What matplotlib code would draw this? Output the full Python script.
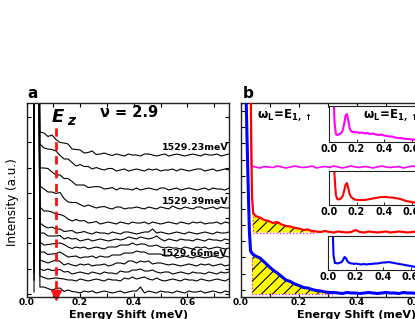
import numpy as np
import matplotlib
matplotlib.use('Agg')
import matplotlib.pyplot as plt
from matplotlib import font_manager as fm
from matplotlib.ticker import MultipleLocator, FormatStrFormatter

plt.rcParams['font.family'] = ['DejaVu Sans']
plt.rcParams['font.weight'] = 'bold'
plt.rcParams['mathtext.fontset'] = 'dejavusans'
plt.rcParams['mathtext.default'] = 'bf'
plt.rcParams['hatch.linewidth'] = 0.8

W, H = 415, 319

# ---------------- data: panel a (pixel-height units above bottom) -------------
xa_laser = [0.028, 0.031, 0.044]
xa = [0.05, 0.065, 0.08, 0.095, 0.11, 0.125, 0.14, 0.155, 0.17, 0.185, 0.2, 0.215,
      0.23, 0.245, 0.26, 0.275, 0.29, 0.305, 0.32, 0.335, 0.35, 0.365, 0.38, 0.395,
      0.41, 0.425, 0.44, 0.455, 0.47, 0.485, 0.5, 0.515, 0.53, 0.545, 0.56, 0.575,
      0.59, 0.605, 0.62, 0.635, 0.65, 0.665, 0.68, 0.695, 0.71, 0.725, 0.74, 0.755]
baselines_a = [142, 127, 108, 89, 74, 64, 57, 49, 40, 32, 24, 17, 5]
trace1 = [165, 164, 160.5, 162, 157.5, 154.5, 154, 153, 148, 147.5, 147, 144, 144.5, 146, 142.5, 143,
          144, 142.5, 141.5, 143, 142, 141, 143, 142, 142, 141, 143, 143, 142, 141, 142, 143,
          141, 142, 143, 142, 141, 142, 143, 142, 141, 143, 142, 142, 143, 141, 142, 143]
trace2 = [153, 149, 148, 147.5, 146, 141.5, 138, 138, 134.5, 131, 132.5, 130.5, 130.5, 128, 129.5, 128,
          127, 128.5, 128.5, 126, 127, 128, 126, 127, 128, 127, 126, 128, 127, 128, 126, 127,
          127, 128, 126, 128, 127, 126, 127, 128, 128, 126, 127, 128, 126, 127, 128, 127]
trace3 = [129, 129, 128.5, 125, 122, 122, 118.5, 118.5, 115.5, 112, 112, 112, 109.5, 110, 110.5, 110,
          108, 108.5, 109.5, 107, 109, 108, 108, 107, 109, 107, 108, 109, 108, 107, 109, 109,
          107, 108, 109, 107, 108, 109, 108, 107, 108, 109, 107, 109, 108, 108, 107, 109]
trace4 = [111, 108, 105, 105, 103.5, 104.5, 98.5, 95, 94.5, 94.5, 92.5, 90.5, 92, 90.5, 89, 90,
          90.5, 89, 88, 90, 90, 88, 89, 89, 90, 89, 88, 90, 89, 88, 90, 89,
          88, 91, 89, 88, 90, 89, 88, 90, 90, 88, 89, 90, 88, 90, 89, 89]
trace5 = [90, 86, 86, 85, 83, 82.5, 81, 78, 76, 77.5, 76, 76.5, 74, 74.5, 75.5, 73,
          74, 75, 74, 73, 75, 74, 73, 75, 74, 74, 75, 73, 75, 74, 73, 74,
          75, 74, 73, 75, 74, 73, 75, 74, 75, 73, 74, 74, 75, 73, 75, 74]
trace6 = [74, 71, 69, 70, 68, 68, 65.5, 66, 66.5, 64, 64.5, 65.5, 64, 63, 65, 64,
          64, 63, 65, 64, 63, 65, 65, 64, 63, 64, 65, 65, 68, 64, 65, 64,
          63, 64, 65, 64, 63, 65, 64, 63, 64, 65, 64, 63, 65, 64, 64, 65]
trace7 = [64, 64, 61, 61, 61, 61.5, 58, 59.5, 58, 58.5, 56, 57, 58, 56, 57, 58,
          57, 56, 57, 58, 57, 58, 60, 59, 58, 60, 59, 58, 59, 61, 58, 56,
          58, 57, 56, 58, 57, 57, 56, 58, 57, 56, 58, 57, 57, 56, 58, 57]
trace8 = [55, 52, 52.5, 53, 53.5, 54, 52.5, 50, 48.5, 50, 49, 50, 48, 49, 50, 49,
          48, 50, 50, 50, 52, 52, 52, 54, 52, 53, 53, 51, 51, 52, 50, 49,
          50, 49, 49, 48, 50, 49, 48, 50, 49, 50, 48, 49, 50, 49, 48, 49]
trace9 = [45, 45, 42.5, 43, 43.5, 45, 42.5, 40, 40.5, 41, 39, 40, 40, 41, 39, 41,
          40, 40, 42, 42, 42, 44, 44, 44, 46, 45, 45, 43, 43, 43, 43, 41,
          41, 42, 39, 40, 41, 40, 39, 41, 40, 39, 40, 41, 40, 39, 41, 40]
trace10 = [37, 35.5, 34, 35.5, 37, 35.5, 32, 33.5, 32, 31, 33, 32, 33, 31, 32, 32,
           33, 31, 32, 34, 34, 33, 36, 36, 34, 36, 35, 36, 33, 34, 34, 33,
           32, 33, 32, 31, 32, 33, 32, 31, 33, 32, 33, 31, 32, 33, 31, 32]
trace11 = [28, 26.5, 28, 26.5, 27, 27.5, 25, 25.5, 23, 24, 25, 24, 23, 25, 24, 23,
           25, 24, 24, 23, 26, 25, 25, 27, 27, 28, 26, 26, 27, 25, 24, 25,
           25, 23, 24, 25, 24, 23, 25, 24, 24, 23, 25, 24, 23, 25, 24, 25]
trace12 = [21, 19.5, 18, 18.5, 19, 18.5, 18, 17, 17, 16, 18, 17, 16, 17, 18, 17,
           16, 18, 17, 17, 16, 19, 18, 20, 18, 19, 20, 18, 17, 19, 17, 16,
           17, 18, 17, 16, 18, 17, 17, 16, 18, 17, 16, 17, 18, 17, 16, 18]
trace13 = [10, 10, 8.5, 7, 8.5, 9, 5.5, 7, 5.5, 5, 4, 6, 5, 6, 4, 5,
           6, 5, 4, 5, 6, 4, 5, 6, 6, 10, 4, 6, 5, 4, 6, 5,
           5, 4, 6, 5, 4, 6, 5, 5, 6, 4, 5, 6, 5, 4, 6, 5]
traces_a = [trace1, trace2, trace3, trace4, trace5, trace6, trace7, trace8,
            trace9, trace10, trace11, trace12, trace13]
ez_pos = 0.11
trace_labels = ['1529.23meV', '1529.39meV', '1529.66meV']

# ---------------- data: panel b -------------
xb = [0.05, 0.065, 0.08, 0.095, 0.11, 0.125, 0.14, 0.155, 0.17, 0.185, 0.2, 0.215,
      0.23, 0.245, 0.26, 0.275, 0.29, 0.305, 0.32, 0.335, 0.35, 0.365, 0.38, 0.395,
      0.41, 0.425, 0.44, 0.455, 0.47, 0.485, 0.5, 0.515, 0.53, 0.545, 0.56, 0.575,
      0.59, 0.605]
mag_pre_x = [0.03, 0.036, 0.042]
mag_pre_y = [400, 132, 130.5]
mag_main = [130, 129, 130.5, 130, 129.5, 131, 130, 129, 130, 131, 130, 129.5, 130, 131, 129, 130,
            130.5, 129.5, 131, 130, 129, 130, 131, 130, 129.5, 130.5, 130, 129, 130, 131, 130,
            129.5, 130, 130.5, 129, 130, 131, 130]
red_pre_x = [0.03, 0.035, 0.038, 0.042]
red_pre_y = [400, 160, 100, 84]
red_main = [81, 79.5, 77, 76, 74, 75, 72.5, 71, 70.5, 69, 68.5, 67, 67.5, 66, 65.5, 65,
            66, 65, 64.5, 65.5, 65, 64.5, 65, 67, 65, 64.5, 65.5, 65, 64.5, 65, 65.5,
            64.5, 65, 65.5, 65, 64.5, 65, 65.5]
blue_pre_x = [0.01, 0.018, 0.024, 0.029, 0.033, 0.04]
blue_pre_y = [400, 194, 120, 65, 46, 43]
blue_main = [41, 39, 35, 31, 27, 24, 20.5, 17, 15.5, 13, 11.5, 9.5, 9, 7.5, 6.5, 6,
             5, 4.5, 4.5, 4, 3.5, 4.5, 4, 4, 3.5, 4, 4.5, 4, 3.5, 4, 4.5, 4,
             4, 3.5, 4.5, 4, 4, 3.5]
red_fill_base = 64.5
red_fill_end = 0.26
blue_fill_base = 2.7
blue_fill_end = 0.32

# insets
xi = [0.03, 0.04, 0.05, 0.06, 0.07, 0.08, 0.09, 0.10, 0.11, 0.12, 0.13, 0.14, 0.15, 0.16,
      0.17, 0.18, 0.19, 0.20, 0.22, 0.24, 0.26, 0.28, 0.30, 0.32, 0.34, 0.36, 0.38, 0.40,
      0.42, 0.44, 0.46, 0.48, 0.50, 0.52, 0.54, 0.56, 0.58, 0.60, 0.62, 0.64]
inset_mag = [60, 20, 8, 7, 7.5, 8, 9, 12, 18, 26, 28, 22, 14, 11, 10, 10.5, 9.5, 10, 9, 9.5,
             8.5, 9, 8, 8.5, 7.5, 7, 7.5, 6.5, 6, 5.5, 5.5, 4.5, 4, 4, 3.5, 3, 3, 2.5, 2.5, 2]
inset_red = [60, 30, 10, 6, 5.5, 6, 7, 9, 14, 20, 22, 17, 11, 8, 7, 6, 5.5, 5, 5, 5,
             5, 5.5, 6, 6.5, 7, 7.5, 8, 8, 8, 7.5, 7.5, 7, 6.5, 6, 5, 4, 3.5, 3, 2.5, 2.5]
inset_blue = [60, 15, 7, 7, 6.5, 7, 7.5, 8, 10, 13, 12, 9, 7.5, 7, 6.5, 6.5, 6, 6.5, 6, 5.5,
              6, 5.5, 6, 6, 6.5, 6.5, 7, 7.5, 7.5, 8, 7.5, 7, 6.5, 6, 5.5, 5, 4.5, 4, 3.5, 3]
inset_ticks = [0.0, 0.2, 0.4, 0.6]

# ---------------- narrow font for the y label -------------
_names = {f.name for f in fm.fontManager.ttflist}
ylab_kw = dict(fontsize=10)
if 'Liberation Sans Narrow' in _names:
    ylab_kw['family'] = ['Liberation Sans Narrow', 'DejaVu Sans']
else:
    _cond = [f for f in fm.fontManager.ttflist
             if f.name == 'DejaVu Sans' and 'ondensed' in str(f.stretch)]
    if _cond:
        ylab_kw['family'] = ['DejaVu Sans']
        ylab_kw['stretch'] = 'condensed'
        ylab_kw['fontsize'] = 9.5
    else:
        ylab_kw['family'] = ['DejaVu Sans']
        ylab_kw['fontsize'] = 8.0

# ---------------- figure -------------
fig = plt.figure(figsize=(W / 100, H / 100), dpi=100)


def rect(l, t, r, b):
    return [l / W, 1 - b / H, (r - l) / W, (b - t) / H]


spine_c = '#222222'

# panel a
axa = fig.add_axes(rect(26.5, 103, 229, 297))
for tr, b in zip(traces_a, baselines_a):
    axa.plot(xa_laser + xa, [b, 400, 400] + tr, color='black', lw=0.8)
axa.set_xlim(0, 0.755)
axa.set_ylim(0, 194)
axa.plot([ez_pos, ez_pos], [8, 171], color='#ff1010', lw=2, dashes=(3, 2))
axa.plot([ez_pos], [2.5], marker='v', color='#ff1010', ms=7, clip_on=False)
axa.xaxis.set_major_locator(MultipleLocator(0.2))
axa.xaxis.set_minor_locator(MultipleLocator(0.1))
axa.xaxis.set_major_formatter(FormatStrFormatter('%.1f'))
axa.set_yticks([3 + 25.3 * k for k in range(8)])
axa.set_yticklabels([])
axa.tick_params(which='both', direction='in', top=True, right=True, length=3,
                width=0.8, labelsize=6.6, pad=1)
for s in axa.spines.values():
    s.set_linewidth(1.0)
    s.set_color(spine_c)

axa.text(0.752, 145.5, trace_labels[0], ha='right', va='bottom', fontsize=6.8)
axa.text(0.752, 90.5, trace_labels[1], ha='right', va='bottom', fontsize=6.8)
axa.text(0.752, 38.5, trace_labels[2], ha='right', va='bottom', fontsize=6.8)

# panel b
axb = fig.add_axes(rect(241, 103, 241 + 232, 297))
axb.set_xlim(0, 0.8)
axb.set_ylim(0, 194)
rx = [0.04] + [x for x in xb if x <= red_fill_end]
ry = [84] + red_main[:len(rx) - 1]
axb.fill_between(rx, red_fill_base, ry, facecolor='#ffff00', edgecolor='black',
                 hatch='///', lw=0, zorder=1)
axb.plot([rx[0], rx[0], rx[-1]], [ry[0], red_fill_base, red_fill_base], ls=':',
         color='#ff00ff', lw=0.9, zorder=2)
bx = [0.038] + [x for x in xb if x <= blue_fill_end]
by = [43] + blue_main[:len(bx) - 1]
axb.fill_between(bx, blue_fill_base, by, facecolor='#ffff00', edgecolor='black',
                 hatch='///', lw=0, zorder=1)
axb.plot([bx[0], bx[0], bx[-1]], [by[0], blue_fill_base, blue_fill_base], ls=':',
         color='#ff00ff', lw=0.9, zorder=2)
axb.plot(mag_pre_x + xb, mag_pre_y + mag_main, color='#ff00ff', lw=1.2, zorder=3)
axb.plot(red_pre_x + xb, red_pre_y + red_main, color='#ff0000', lw=1.6, zorder=3)
axb.plot(blue_pre_x + xb, blue_pre_y + blue_main, color='#0000ff', lw=2.2, zorder=3)
axb.xaxis.set_major_locator(MultipleLocator(0.2))
axb.xaxis.set_minor_locator(MultipleLocator(0.1))
axb.xaxis.set_major_formatter(FormatStrFormatter('%.1f'))
axb.set_yticks([7 + 16.3 * k for k in range(12)])
axb.set_yticklabels([])
axb.tick_params(which='both', direction='in', top=True, right=True, length=3,
                width=0.8, labelsize=6.6, pad=1)
for s in axb.spines.values():
    s.set_linewidth(1.0)
    s.set_color(spine_c)


def inset(l, t, b, xs, ys, color):
    ax = fig.add_axes(rect(l, t, l + 110, b))
    ax.plot(xs, ys, color=color, lw=1.5)
    ax.set_xlim(0, 0.8)
    ax.set_ylim(0, b - t)
    ax.set_xticks(inset_ticks)
    ax.xaxis.set_major_formatter(FormatStrFormatter('%.1f'))
    ax.set_yticks([])
    ax.tick_params(direction='in', length=2, width=0.6, labelsize=7, pad=1.5)
    for s in ax.spines.values():
        s.set_linewidth(0.8)
        s.set_color(spine_c)
    return ax


inset(329, 106, 142, xi, inset_mag, '#ff00ff')
inset(329, 171, 205, xi, inset_red, '#ff0000')
inset(328, 236, 270, xi, inset_blue, '#0000ff')

# texts


def ftxt(px, py, s, **kw):
    fig.text(px / W, 1 - py / H, s, **kw)


ftxt(32.5, 94, 'a', fontsize=11, ha='center', va='center')
ftxt(248, 93, 'b', fontsize=11, ha='center', va='center')
ftxt(100, 112, 'ν = 2.9', fontsize=10.5, ha='left', va='center')
ftxt(52, 122, 'E', fontsize=13, style='italic', ha='left', va='baseline')
ftxt(67, 125, 'z', fontsize=10, style='italic', ha='left', va='baseline')
ftxt(12.5, 202, 'Intensity (a.u.)', weight='normal', rotation=90,
     ha='center', va='center', **ylab_kw)
ftxt(128.5, 315, 'Energy Shift (meV)', fontsize=8, ha='center', va='center')
ftxt(297, 315, 'Energy Shift (meV)', fontsize=8, ha='left', va='center')
ftxt(257, 115.5, r'$\omega_L\!=\!E_{1,\uparrow}$', fontsize=8.5, ha='left', va='center')
ftxt(363, 115.5, r'$\omega_L\!=\!E_{1,\uparrow}$', fontsize=8.5, ha='left', va='center')

fig.savefig('out.png', dpi=100)
